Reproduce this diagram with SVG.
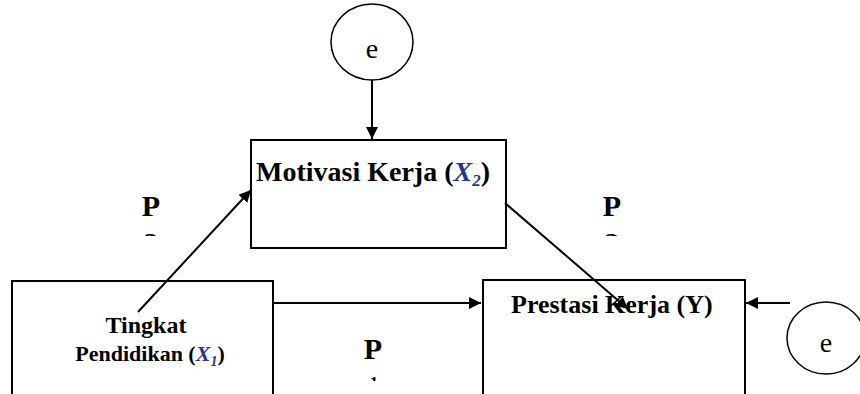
<svg xmlns="http://www.w3.org/2000/svg" width="860" height="394" viewBox="0 0 860 394">
<style>
.box{fill:#fff;stroke:#000;stroke-width:2}
.ell{fill:#fff;stroke:#000;stroke-width:1.5}
.lbl{font-family:"Liberation Serif",serif;font-weight:bold;font-size:26px;fill:#000}
.lbl2{font-family:"Liberation Serif",serif;font-weight:bold;font-size:24px;fill:#000}
.var{font-style:italic;fill:#1f3a8a}
.e{font-family:"Liberation Serif",serif;font-size:28px;fill:#000}
.p{font-family:"Liberation Serif",serif;font-weight:bold;font-size:30px;fill:#000}
.conn{stroke:#000;stroke-width:2;fill:none;marker-end:url(#ah)}
</style>
<defs>
<marker id="ah" viewBox="0 0 10 10" refX="10" refY="5" markerWidth="6" markerHeight="6" markerUnits="strokeWidth" orient="auto">
<path d="M0,0 L10,5 L0,10 z" fill="#000"/>
</marker>
<clipPath id="c1"><rect x="120" y="190" width="60" height="46"/></clipPath>
<clipPath id="c2"><rect x="590" y="190" width="60" height="46"/></clipPath>
<clipPath id="c3"><rect x="350" y="366" width="60" height="15"/></clipPath>
</defs>
<g id="node-e-top">
<ellipse class="ell" cx="372" cy="42" rx="41" ry="38"/>
<text class="e" x="372" y="58" text-anchor="middle">e</text>
</g>
<g id="node-motivasi">
<rect class="box" x="251" y="140" width="255" height="108"/>
<text class="lbl" x="256" y="181" style="font-size:28px">Motivasi Kerja (<tspan class="var">X</tspan><tspan class="var" style="font-size:17px" dy="5">2</tspan><tspan dy="-5">)</tspan></text>
</g>
<g id="node-tingkat">
<rect class="box" x="12" y="281" width="261" height="130"/>
<text class="lbl2" x="146" y="333" text-anchor="middle">Tingkat</text>
<text class="lbl2" x="150" y="361" text-anchor="middle" style="font-size:22px">Pendidikan (<tspan class="var">X</tspan><tspan class="var" style="font-size:14px" dy="5">1</tspan><tspan dy="-5">)</tspan></text>
</g>
<g id="node-prestasi">
<rect class="box" x="483" y="280" width="262" height="130"/>
<text class="lbl" x="511" y="313">Prestasi Kerja (Y)</text>
</g>
<g id="node-e-right">
<ellipse class="ell" cx="826" cy="338" rx="39" ry="36"/>
<text class="e" x="826" y="352" text-anchor="middle">e</text>
</g>
<g id="connectors">
<line class="conn" x1="372" y1="80" x2="372" y2="139"/>
<line class="conn" x1="138" y1="312" x2="251" y2="190"/>
<line class="conn" x1="505" y1="203" x2="628" y2="309"/>
<line class="conn" x1="273" y1="303" x2="481" y2="303"/>
<line class="conn" x1="790" y1="303" x2="746" y2="303"/>
</g>
<g id="labels">
<text class="p" x="151" y="216" text-anchor="middle">P</text>
<text class="p" x="151" y="253" text-anchor="middle" clip-path="url(#c1)">2</text>
<text class="p" x="612" y="216" text-anchor="middle">P</text>
<text class="p" x="612" y="253" text-anchor="middle" clip-path="url(#c2)">3</text>
<text class="p" x="373" y="359" text-anchor="middle">P</text>
<text class="p" x="374" y="388" text-anchor="middle" style="font-size:16px" clip-path="url(#c3)">1</text>
</g>
</svg>
